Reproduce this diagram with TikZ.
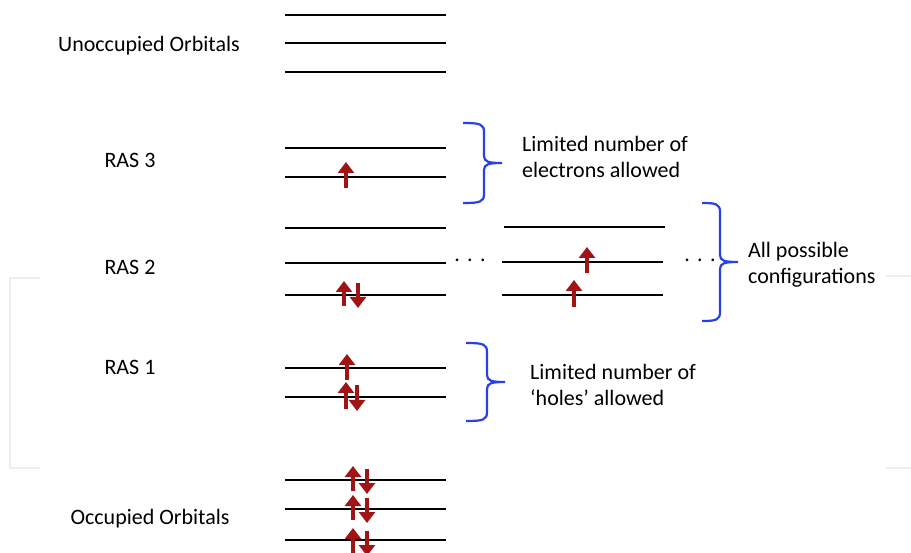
\documentclass[tikz,border=0pt]{standalone}
\usepackage{fontspec}
\setmainfont{Carlito}
\usetikzlibrary{arrows.meta}
\definecolor{spinred}{RGB}{160,20,20}
\definecolor{braceblue}{RGB}{40,65,230}
\definecolor{faintgray}{RGB}{238,238,238}
\tikzset{
  level/.style={line width=1.8pt, black},
  elec/.style={line width=3.6pt, spinred, -{Triangle[width=16pt,length=11pt]}},
  grp/.style={line width=2.2pt, braceblue},
  lab/.style={inner sep=0pt, align=left, font=\fontsize{22}{26}\selectfont},
}
% right brace: left x, top y, bottom y, shaft offset, tip offset
\newcommand{\groupbrace}[5]{%
  \draw[grp] (#1,#2) .. controls ({#1+#4-4},#2) and ({#1+#4},{#2+1}) .. ({#1+#4},{#2+9})
    -- ({#1+#4},{(#2+#3)/2-7}) .. controls ({#1+#4},{(#2+#3)/2-1}) and ({#1+#4+5},{(#2+#3)/2}) .. ({#1+#5},{(#2+#3)/2})
    .. controls ({#1+#4+5},{(#2+#3)/2}) and ({#1+#4},{(#2+#3)/2+1}) .. ({#1+#4},{(#2+#3)/2+7})
    -- ({#1+#4},{#3-9}) .. controls ({#1+#4},{#3-1}) and ({#1+#4-4},#3) .. (#1,#3);}
\begin{document}
\begin{tikzpicture}[x=1pt, y=-1pt]
  \useasboundingbox (0,0) rectangle (911,553);
  % faint frame
  \draw[faintgray, line width=1.5pt] (40,278) -- (10,278) -- (10,468) -- (40,468);
  \draw[faintgray, line width=1.5pt] (886,276) -- (911,276);
  \draw[faintgray, line width=1.5pt] (886,468) -- (911,468);
  % level ends
  \coordinate (u1l) at (285,15);  \coordinate (u1r) at (446,15);
  \coordinate (u2l) at (285,43);  \coordinate (u2r) at (446,43);
  \coordinate (u3l) at (285,72);  \coordinate (u3r) at (446,72);
  \coordinate (r3al) at (285,148); \coordinate (r3ar) at (446,148);
  \coordinate (r3bl) at (285,177); \coordinate (r3br) at (446,177);
  \coordinate (r2al) at (285,228); \coordinate (r2ar) at (446,228);
  \coordinate (r2bl) at (285,263); \coordinate (r2br) at (446,263);
  \coordinate (r2cl) at (285,295); \coordinate (r2cr) at (446,295);
  \coordinate (s2al) at (504,227); \coordinate (s2ar) at (665,227);
  \coordinate (s2bl) at (502,262); \coordinate (s2br) at (663,262);
  \coordinate (s2cl) at (502,295); \coordinate (s2cr) at (663,295);
  \coordinate (r1al) at (285,368); \coordinate (r1ar) at (446,368);
  \coordinate (r1bl) at (285,397); \coordinate (r1br) at (446,397);
  \coordinate (o1l) at (285,480); \coordinate (o1r) at (446,480);
  \coordinate (o2l) at (285,509); \coordinate (o2r) at (446,509);
  \coordinate (o3l) at (285,540); \coordinate (o3r) at (446,540);
  % orbitals
  \draw[level] (u1l) -- (u1r);
  \draw[level] (u2l) -- (u2r);
  \draw[level] (u3l) -- (u3r);
  \draw[level] (r3al) -- (r3ar);
  \draw[level] (r3bl) -- (r3br);
  \draw[level] (r2al) -- (r2ar);
  \draw[level] (r2bl) -- (r2br);
  \draw[level] (r2cl) -- (r2cr);
  \draw[level] (s2al) -- (s2ar);
  \draw[level] (s2bl) -- (s2br);
  \draw[level] (s2cl) -- (s2cr);
  \draw[level] (r1al) -- (r1ar);
  \draw[level] (r1bl) -- (r1br);
  \draw[level] (o1l) -- (o1r);
  \draw[level] (o2l) -- (o2r);
  \draw[level] (o3l) -- (o3r);
  % dots
  \node[lab] (dotsa) at (470,260) {.\,\,.\,\,.};
  \node[lab] (dotsb) at (700,260) {.\,\,.\,\,.};
  % electrons
  \draw[elec] (346,188) -- (346,162);
  \draw[elec] (344,306) -- (344,281);
  \draw[elec] (358,283) -- (358,308);
  \draw[elec] (587,273) -- (587,247);
  \draw[elec] (574,307) -- (574,280);
  \draw[elec] (347,380) -- (347,354);
  \draw[elec] (346,409) -- (346,382);
  \draw[elec] (357,385) -- (357,411);
  \draw[elec] (353,491) -- (353,466);
  \draw[elec] (367,469) -- (367,494);
  \draw[elec] (353,520) -- (353,495);
  \draw[elec] (367,498) -- (367,523);
  \draw[elec] (353,554) -- (353,528);
  \draw[elec] (367,531) -- (367,556);
  % braces
  \groupbrace{463}{123}{203}{21}{39}
  \groupbrace{702}{203}{321}{18}{36}
  \groupbrace{466}{343}{421}{21}{39}
  % labels
  \node[lab] (unocc) at (149,46) {Unoccupied Orbitals};
  \node[lab] (ras3) at (130,160) {RAS 3};
  \node[lab] (ras2) at (130,267) {RAS 2};
  \node[lab] (ras1) at (130,367) {RAS 1};
  \node[lab] (occ) at (150,519) {Occupied Orbitals};
  \node[lab, anchor=west] (elecnote) at (522,157) {Limited number of\\electrons allowed};
  \node[lab, anchor=west] (confnote) at (748,265) {All possible\\configurations};
  \node[lab, anchor=west] (holenote) at (530,385) {Limited number of\\‘holes’ allowed};
\end{tikzpicture}
\end{document}
